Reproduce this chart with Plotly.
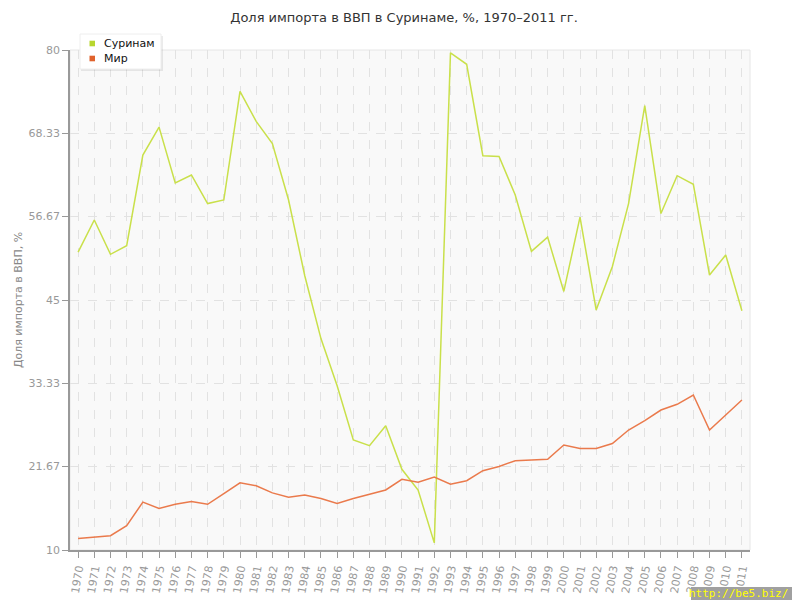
import plotly.graph_objects as go

years = [str(y) for y in range(1970, 2012)]
suriname = [51.7, 56.2, 51.4, 52.6, 65.3, 69.2, 61.4, 62.5, 58.5, 59.0,
            74.2, 70.0, 66.9, 59.0, 48.4, 39.6, 33.0, 25.4, 24.6, 27.4,
            21.3, 18.4, 11.0, 79.6, 78.0, 65.2, 65.1, 59.7, 51.8, 53.8,
            46.2, 56.6, 43.6, 49.7, 58.5, 72.2, 57.1, 62.4, 61.2, 48.5,
            51.3, 43.5]
world = [11.6, 11.8, 12.0, 13.4, 16.7, 15.8, 16.4, 16.8, 16.4, 17.9,
         19.4, 19.0, 18.0, 17.4, 17.7, 17.2, 16.5, 17.2, 17.8, 18.4,
         19.9, 19.5, 20.2, 19.2, 19.7, 21.1, 21.7, 22.5, 22.6, 22.7,
         24.7, 24.2, 24.2, 24.9, 26.8, 28.1, 29.6, 30.4, 31.7, 26.8,
         28.9, 31.0]
series_names = ["Суринам", "Мир"]
ytick_vals = [10, 21.67, 33.33, 45, 56.67, 68.33, 80]
ytick_text = ["10", "21.67", "33.33", "45", "56.67", "68.33", "80"]

FONT = "DejaVu Sans"
LINE_COLORS = ["#c9e04a", "#ea7a4c"]
LEGEND_COLORS = ["#b8d62e", "#e0622c"]

W, H = 792, 592          # page has an 8px body margin
L, R, T, B = 62, 50, 42, 50
PW, PH = W - L - R, H - T - B


def px(x):  # page px -> paper x
    return (x - 8 - L) / PW


def py(y):  # page px -> paper y
    return 1 - (y - 8 - T) / PH


fig = go.Figure()
for name, vals, col in zip(series_names, [suriname, world], LINE_COLORS):
    fig.add_trace(go.Scatter(x=years, y=vals, mode="lines", name=name,
                             line=dict(color=col, width=1.5), showlegend=False))

fig.update_layout(
    width=W, height=H,
    margin=dict(l=L, r=R, t=T, b=B, autoexpand=False),
    paper_bgcolor="white",
    plot_bgcolor="#f9f9f9",
    font=dict(family=FONT, color="#999999", size=11),
    title=dict(text="Доля импорта в ВВП в Суринаме, %, 1970–2011 гг.",
               x=0.5, xanchor="center", y=1 - 9 / H, yanchor="middle",
               font=dict(family=FONT, size=13, color="#333333")),
    showlegend=False,
    xaxis=dict(
        type="category", range=[-0.5, 41.5],
        showgrid=True, gridcolor="#e2e2e2", griddash="dash", gridwidth=1,
        showline=True, linecolor="#999999", linewidth=1.5, mirror=False,
        ticks="outside", ticklen=6, tickcolor="#999999",
        tickangle=-80, tickfont=dict(family=FONT, size=11, color="#999999"),
        zeroline=False, automargin=False,
    ),
    yaxis=dict(
        range=[10, 80], tickvals=ytick_vals, ticktext=ytick_text,
        showgrid=True, gridcolor="#e2e2e2", griddash="dash", gridwidth=1,
        showline=True, linecolor="#999999", linewidth=1.5,
        ticks="outside", ticklen=6, tickcolor="#999999",
        tickfont=dict(family=FONT, size=11, color="#999999"),
        title=dict(text="Доля импорта в ВВП, %", standoff=4,
                   font=dict(family=FONT, size=11, color="#888888")),
        zeroline=False, automargin=False,
    ),
)

# faint frame of the plot area
fig.add_shape(type="rect", xref="paper", yref="paper", x0=0, y0=0, x1=1, y1=1,
              line=dict(color="#e6e6e6", width=1), layer="below")

# custom legend box (shadow + white box)
fig.add_shape(type="rect", xref="paper", yref="paper",
              x0=px(81), x1=px(163), y0=py(36), y1=py(71),
              fillcolor="rgba(0,0,0,0.08)", line=dict(width=0), layer="above")
fig.add_shape(type="rect", xref="paper", yref="paper",
              x0=px(80), x1=px(161), y0=py(34), y1=py(69),
              fillcolor="white", line=dict(color="#eeeeee", width=1), layer="above")
for i, (name, col) in enumerate(zip(series_names, LEGEND_COLORS)):
    cy = 43.5 + 15 * i
    fig.add_shape(type="rect", xref="paper", yref="paper",
                  x0=px(89.5), x1=px(95), y0=py(cy - 2.8), y1=py(cy + 2.8),
                  fillcolor=col, line=dict(width=0), layer="above")
    fig.add_annotation(text=name, xref="paper", yref="paper",
                       x=px(102), y=py(cy), xanchor="left", yanchor="middle",
                       showarrow=False,
                       font=dict(family=FONT, size=11, color="#111111"))

# watermark box + text (kept inside the visible area)
fig.add_shape(type="rect", xref="paper", yref="paper",
              x0=px(691), x1=px(792), y0=py(587), y1=py(600),
              fillcolor="#a0a0a0", line=dict(width=0), layer="above")
fig.add_annotation(text="http://be5.biz/", xref="paper", yref="paper",
                   x=px(790), y=py(593.5),
                   xanchor="right", yanchor="middle",
                   showarrow=False,
                   font=dict(family="DejaVu Sans Mono", size=11, color="#ffff00"))

fig.write_html("out.html")
